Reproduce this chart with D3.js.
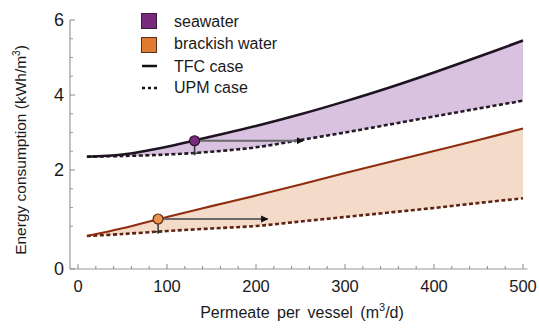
<!DOCTYPE html>
<html><head><meta charset="utf-8">
<script src="https://cdn.jsdelivr.net/npm/d3@7"></script>
<style>
body{margin:0;background:#fff;}
text{font-family:"Liberation Sans",Arial,sans-serif;fill:#1a1a1a;}
</style></head>
<body><svg id="c" width="539" height="328"></svg>
<script>
// ---- data ----
const xVals = [10, 50, 100, 150, 200, 250, 300, 350, 400, 450, 500];
const seaTFC = [2.355, 2.413, 2.621, 2.893, 3.173, 3.485, 3.83, 4.20, 4.60, 5.02, 5.453];
const seaUPM = [2.355, 2.373, 2.413, 2.488, 2.605, 2.80, 3.00, 3.213, 3.427, 3.64, 3.848];
const brTFC  = [0.386, 0.476, 0.747, 1.035, 1.32, 1.613, 1.92, 2.213, 2.507, 2.80, 3.107];
const brUPM  = [0.386, 0.409, 0.444, 0.474, 0.507, 0.627, 0.747, 0.867, 0.987, 1.12, 1.245];
const seaPoint = {x: 131, tfc: 2.78, upm: 2.445, xEnd: 253};
const brPoint  = {x: 90,  tfc: 0.693, upm: 0.436, xEnd: 213};
const yMajor = [0, 2, 4, 6];
const yMinor = [0.5,1,1.5,2.5,3,3.5,4.5,5,5.5];
const xMajor = [0, 100, 200, 300, 400, 500];
const legendItems = ["seawater", "brackish water", "TFC case", "UPM case"];

const svg = d3.select("#c");
const x = d3.scaleLinear().domain([0, 500]).range([78, 523]);
const y = d3.scaleLinear().domain([0, 0.5, 6]).range([269, 226.25, 20]);
const axX = x(-9), axY = y(0);

const pts = (arr) => xVals.map((xv, i) => [xv, arr[i]]);
const crv = d3.curveCatmullRom.alpha(0.5);
const line = d3.line().x(d => x(d[0])).y(d => y(d[1])).curve(crv);
const area = d3.area().x(d => x(d[0])).y0(d => y(d[2])).y1(d => y(d[1])).curve(crv);
const band = (a, b) => xVals.map((xv, i) => [xv, a[i], b[i]]);

// fills
svg.append("path").attr("d", area(band(seaTFC, seaUPM))).attr("fill", "#d8c2e0");
svg.append("path").attr("d", area(band(brTFC, brUPM))).attr("fill", "#f4dac9");

// axes
const g = svg.append("g");
g.append("line").attr("x1", axX).attr("x2", axX).attr("y1", y(6)).attr("y2", axY).attr("stroke", "#9a9a9a").attr("stroke-width", 1.2);
g.append("line").attr("x1", axX).attr("x2", x(505)).attr("y1", axY).attr("y2", axY).attr("stroke", "#9a9a9a").attr("stroke-width", 1.2);
yMajor.forEach(v => {
  g.append("line").attr("x1", axX).attr("x2", axX + 5).attr("y1", y(v)).attr("y2", y(v)).attr("stroke", "#8a8a8a");
  g.append("text").attr("x", axX - 6).attr("y", y(v)).attr("dy", "0.36em").attr("text-anchor", "end").attr("font-size", 18).text(v);
});
yMinor.forEach(v => {
  g.append("line").attr("x1", axX).attr("x2", axX + 3).attr("y1", y(v)).attr("y2", y(v)).attr("stroke", "#9a9a9a");
});
d3.range(0, 501, 20).forEach(v => {
  const maj = v % 100 === 0;
  g.append("line").attr("x1", x(v)).attr("x2", x(v)).attr("y1", axY).attr("y2", axY - (maj ? 5 : 3)).attr("stroke", "#8a8a8a");
});
xMajor.forEach(v => {
  g.append("text").attr("x", x(v)).attr("y", 292).attr("text-anchor", "middle").attr("font-size", 16.5).text(v);
});

// axis titles
const yt = svg.append("text").attr("transform", "translate(26,150) rotate(-90)").attr("text-anchor", "middle").attr("font-size", 15.5);
yt.append("tspan").text("Energy consumption (kWh/m");
yt.append("tspan").attr("font-size", 10).attr("dy", -6).text("3");
yt.append("tspan").attr("dy", 6).text(")");
const xt = svg.append("text").attr("x", 302).attr("y", 318).attr("text-anchor", "middle").attr("font-size", 16).attr("word-spacing", 3);
xt.append("tspan").text("Permeate per vessel (m");
xt.append("tspan").attr("font-size", 11).attr("dy", -7).text("3");
xt.append("tspan").attr("dy", 7).text("/d)");

// lines
svg.append("path").attr("d", line(pts(seaUPM))).attr("fill", "none").attr("stroke", "#241a26").attr("stroke-width", 2.6).attr("stroke-dasharray", "4,2.5");
svg.append("path").attr("d", line(pts(seaTFC))).attr("fill", "none").attr("stroke", "#1e1420").attr("stroke-width", 2.6);
svg.append("path").attr("d", line(pts(brUPM))).attr("fill", "none").attr("stroke", "#5e2412").attr("stroke-width", 2.6).attr("stroke-dasharray", "4,2.5");
svg.append("path").attr("d", line(pts(brTFC))).attr("fill", "none").attr("stroke", "#8e2e0e").attr("stroke-width", 2.2);

// arrows
const defs = svg.append("defs");
defs.append("marker").attr("id", "ah").attr("viewBox", "0 0 10 10").attr("refX", 9).attr("refY", 5)
  .attr("markerWidth", 4).attr("markerHeight", 4).attr("orient", "auto")
  .append("path").attr("d", "M0,0L10,5L0,10z").attr("fill", "#111");
[seaPoint, brPoint].forEach(p => {
  svg.append("line").attr("x1", x(p.x)).attr("x2", x(p.xEnd)).attr("y1", y(p.tfc)).attr("y2", y(p.tfc))
    .attr("stroke", "#6a6a6a").attr("stroke-width", 1.8).attr("marker-end", "url(#ah)");
  svg.append("line").attr("x1", x(p.x)).attr("x2", x(p.x)).attr("y1", y(p.tfc)).attr("y2", y(p.upm) + 2)
    .attr("stroke", "#333").attr("stroke-width", 1.5);
  svg.append("line").attr("x1", x(p.x) - 3).attr("x2", x(p.x) + 3).attr("y1", y(p.upm)).attr("y2", y(p.upm))
    .attr("stroke", "#333").attr("stroke-width", 1.5);
});
svg.append("circle").attr("cx", x(seaPoint.x)).attr("cy", y(seaPoint.tfc)).attr("r", 5).attr("fill", "#7a2a7c").attr("stroke", "#2a1028").attr("stroke-width", 1.2);
svg.append("circle").attr("cx", x(brPoint.x)).attr("cy", y(brPoint.tfc)).attr("r", 5).attr("fill", "#e8944a").attr("stroke", "#5a2a10").attr("stroke-width", 1.2);

// legend
const lg = svg.append("g");
lg.append("rect").attr("x", 141.5).attr("y", 13.5).attr("width", 15).attr("height", 15).attr("fill", "#7a2a7c").attr("stroke", "#3a1a3a");
lg.append("rect").attr("x", 141.5).attr("y", 37.5).attr("width", 15).attr("height", 15).attr("fill", "#e07c32").attr("stroke", "#5a3018");
lg.append("line").attr("x1", 142).attr("x2", 157).attr("y1", 66).attr("y2", 66).attr("stroke", "#111").attr("stroke-width", 2.5);
lg.append("line").attr("x1", 142).attr("x2", 158).attr("y1", 88).attr("y2", 88).attr("stroke", "#111").attr("stroke-width", 2.5).attr("stroke-dasharray", "3,3");
[27, 49, 72, 93].forEach((yy, i) => {
  lg.append("text").attr("x", 174).attr("y", yy).attr("font-size", 16).text(legendItems[i]);
});
</script></body></html>
